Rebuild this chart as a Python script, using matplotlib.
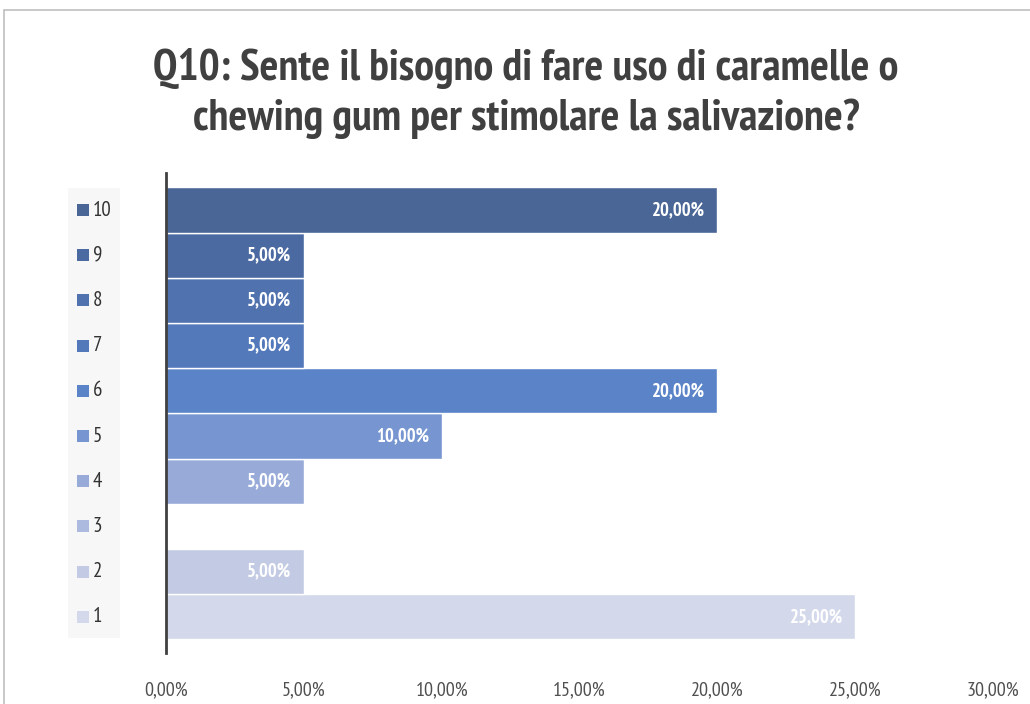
import matplotlib
matplotlib.use("Agg")
import matplotlib.pyplot as plt
from matplotlib.patches import Rectangle
from matplotlib.transforms import blended_transform_factory
import matplotlib.font_manager as fm

categories = ["1", "2", "3", "4", "5", "6", "7", "8", "9", "10"]
values = [0.25, 0.05, 0.0, 0.05, 0.10, 0.20, 0.05, 0.05, 0.05, 0.20]
colors = ["#d3d9eb", "#c3cbe4", "#adbadf", "#98abd8", "#7796d1", "#5b84c8",
          "#5479bb", "#5073b0", "#4b6aa2", "#4a6696"]
xticks = [0.0, 0.05, 0.10, 0.15, 0.20, 0.25, 0.30]
title_lines = ["Q10: Sente il bisogno di fare uso di caramelle o",
               "chewing gum per stimolare la salivazione?"]

names = {f.name for f in fm.fontManager.ttflist}
fam = "PT Sans Narrow" if "PT Sans Narrow" in names else "DejaVu Sans"

def fmt(v):
    return f"{v*100:.2f}%".replace(".", ",")

W, H = 1030, 704
fig = plt.figure(figsize=(W/100, H/100), dpi=100)
fig.patch.set_facecolor("white")
ax = fig.add_axes([166/W, 1-653/H, (993-166)/W, (653-173)/H])

ypos = list(range(1, len(categories)+1))
ax.barh(ypos, values, height=1.0, color=colors, edgecolor="white", linewidth=1.0)
ax.set_xlim(0, 0.30)
ax.set_ylim(0.2, 10.82)

for y, v in zip(ypos, values):
    if v > 0:
        ax.text(v - 0.0045, y, fmt(v), ha="right", va="center", color="white",
                fontsize=13.5, fontweight="bold", family=fam)

ax.set_xticks(xticks)
ax.set_xticklabels([fmt(t) for t in xticks], family=fam, fontsize=14.5, color="#505050")
ax.tick_params(axis="x", length=0, pad=20)
ax.set_yticks([])
for s in ["top", "right", "bottom"]:
    ax.spines[s].set_visible(False)
ax.spines["left"].set_color("#404040")
ax.spines["left"].set_linewidth(2)

# legend (manual, aligned to bars)
fig.patches.append(Rectangle((68/W, 1-638/H), (120-68)/W, (638-188)/H,
                             transform=fig.transFigure, facecolor="#f7f7f7",
                             edgecolor="none", zorder=-1))
tr = blended_transform_factory(fig.transFigure, ax.transData)
for y, c, lab in zip(ypos, colors, categories):
    ax.scatter([82.5/W], [y], marker="s", s=80, color=c, transform=tr,
               clip_on=False, linewidths=0, zorder=5)
    ax.text(92.5/W, y, lab, transform=tr, ha="left", va="center",
            fontsize=15, color="#333333", family=fam, zorder=5)

# border
fig.patches.append(Rectangle((4/W, -0.05), 1.2, 1-10/H+0.05,
                             transform=fig.transFigure, facecolor="none",
                             edgecolor="#bfbfbf", linewidth=1.2, zorder=-1))

# title, fitted to reference width of first line
tx = 526 / W
t1 = fig.text(tx, 1-80/H, title_lines[0], ha="center", va="baseline", fontsize=30,
              fontweight="bold", color="#404040", family=fam)
t2 = fig.text(tx, 1-130/H, title_lines[1], ha="center", va="baseline", fontsize=30,
              fontweight="bold", color="#404040", family=fam)
r = fig.canvas.get_renderer()
w = t1.get_window_extent(r).width
fs = 30 * 742 / w
t1.set_fontsize(fs)
t2.set_fontsize(fs)

fig.savefig("out.png", dpi=100)
